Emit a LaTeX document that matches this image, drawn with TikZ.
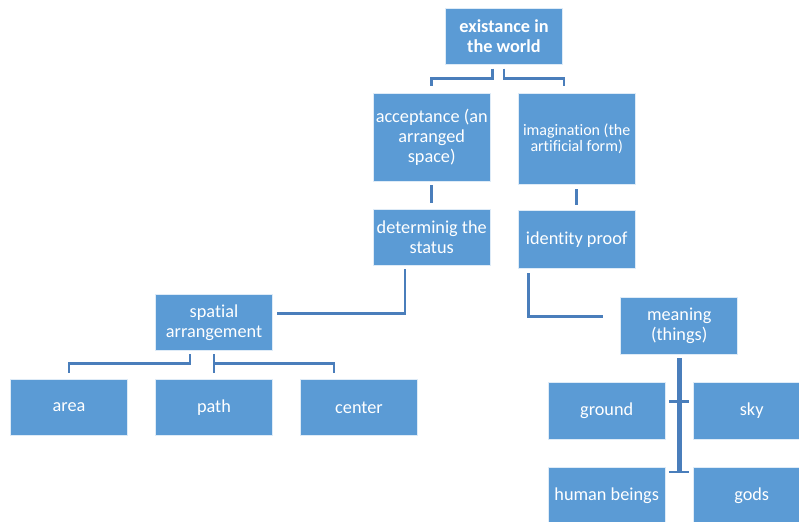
\documentclass[tikz,border=0pt]{standalone}
\usepackage{fontspec}
\setmainfont{Carlito}[Ligatures=NoCommon]
\usetikzlibrary{calc}
\definecolor{boxblue}{HTML}{5B9BD5}
\definecolor{lineblue}{HTML}{4A7EBB}
\begin{document}
\begin{tikzpicture}[x=0.75pt,y=-0.75pt,
    box/.style={fill=boxblue,draw=white!80!boxblue,line width=0.6pt,text=white,
      minimum width=87.5pt,minimum height=42.5pt,inner sep=1pt,align=center,
      font=\fontsize{13.7}{15}\selectfont},
    link/.style={draw=lineblue,line width=2pt}]
  \useasboundingbox (0,0) rectangle (799,521);
  \clip (0,0) rectangle (799,521);
  \node[box,font=\bfseries\fontsize{13.7}{15}\selectfont] (top) at (504,36.5) {existance in\\the world};
  \node[box,minimum height=66pt] (accept) at (431.7,137) {acceptance (an\\arranged\\space)};
  \node[box,minimum height=68.5pt,font=\fontsize{12}{12.5}\selectfont] (imag) at (576.7,138.7) {imagination (the\\artificial form)};
  \node[box] (determ) at (431.7,237.3) {determinig the\\status};
  \node[box,minimum height=43.5pt] (ident) at (576.7,239.3) {identity proof};
  \node[box] (spatial) at (214,322.5) {spatial\\arrangement};
  \node[box] (area) at (69,407.5) {area};
  \node[box] (path) at (214,407.5) {path};
  \node[box] (center) at (359,407.5) {center};
  \node[box] (meaning) at (679.2,325.8) {meaning\\(things)};
  \node[box] (ground) at (606.7,411) {ground};
  \node[box] (sky) at (751.7,411) {sky};
  \node[box] (human) at (606.7,496) {human beings};
  \node[box] (gods) at (751.7,496) {gods};
  % connectors
  \draw[link] ([xshift=-8.5pt,yshift=-2.5pt]top.south) -- ++(0,10) -| ([yshift=5pt]accept.north);
  \draw[link] ([yshift=-2.5pt]top.south) -- ++(0,10) -| ([xshift=-9.5pt,yshift=5pt]imag.north);
  \draw[link] ([yshift=-3pt]accept.south) -- ([yshift=4pt]determ.north);
  \draw[link] ([yshift=-3.5pt]imag.south) -- ([yshift=4pt]ident.north);
  \draw[link] ([xshift=-20pt,yshift=-2.5pt]determ.south) |- ([xshift=3pt,yshift=7pt]spatial.east);
  \draw[link] ([xshift=-18pt,yshift=-2.25pt]spatial.south) -- ++(0,9) -| ([yshift=4.5pt]area.north);
  \draw[link] ([yshift=-2.25pt]spatial.south) -- ([yshift=4.5pt]path.north);
  \draw[link] ([yshift=-2.25pt]spatial.south) ++(0,9) -| ([xshift=-18.75pt,yshift=4.5pt]center.north);
  \draw[link] ([xshift=-36.3pt,yshift=-3.5pt]ident.south) |- ([xshift=-13pt,yshift=7pt]meaning.west);
  \draw[link,line width=3.75pt] ([yshift=-2.8pt]meaning.south) -- ($(meaning.south |- human.north)+(0,4.3)$);
  \draw[link] ([xshift=2.5pt,yshift=7pt]ground.east) -- ([xshift=-3pt,yshift=7pt]sky.west);
  \draw[link] ([xshift=2.5pt,yshift=18pt]human.east) -- ([xshift=-3pt,yshift=18pt]gods.west);
\end{tikzpicture}
\end{document}
